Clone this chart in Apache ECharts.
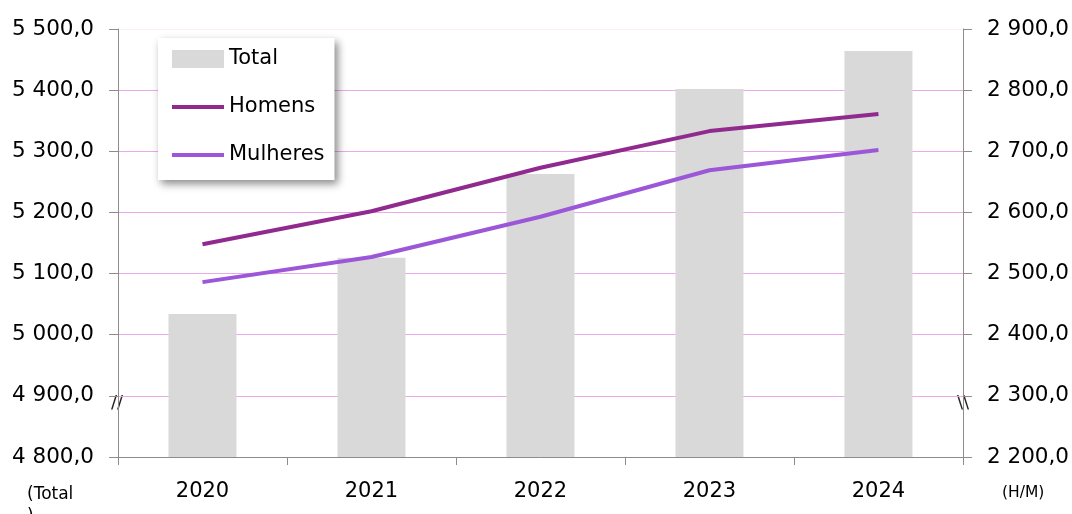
<!DOCTYPE html>
<html>
<head>
<meta charset="utf-8">
<script src="https://cdn.jsdelivr.net/npm/echarts@6/dist/echarts.min.js"></script>
<style>
html,body{margin:0;padding:0;background:#fff;}
#chart{width:1072px;height:514px;}
</style>
</head>
<body>
<div id="chart"></div>
<script>
var categories = ['2020', '2021', '2022', '2023', '2024'];
var totalValues = [5034, 5126, 5263, 5402, 5464];
var homensValues = [2548, 2602, 2673, 2733, 2761];
var mulheresValues = [2486, 2527, 2593, 2669, 2702];
var seriesNames = ['Total', 'Homens', 'Mulheres'];

var FONT = '"DejaVu Sans", sans-serif';
function fmt(v) {
  var s = Math.abs(v).toFixed(1).split('.');
  var intPart = s[0].replace(/\B(?=(\d{3})+(?!\d))/g, ' ');
  return (v < 0 ? '-' : '') + intPart + ',' + s[1];
}

var GRID_PINK = '#eba9eb';
var chart = echarts.init(document.getElementById('chart'));
chart.setOption({
  animation: false,
  backgroundColor: '#ffffff',
  textStyle: { fontFamily: FONT },
  grid: { left: 118, right: 108, top: 29, bottom: 57, containLabel: false },
  legend: {
    orient: 'vertical',
    left: 158, top: 38,
    padding: [9, 10, 13, 12],
    itemWidth: 52, itemHeight: 18,
    itemGap: 24,
    backgroundColor: '#ffffff',
    shadowColor: 'rgba(0,0,0,0.45)',
    shadowBlur: 8, shadowOffsetX: 3, shadowOffsetY: 4,
    textStyle: { fontSize: 21, color: '#000', fontFamily: FONT, lineHeight: 24 },
    data: [
      { name: seriesNames[0], icon: 'rect' },
      { name: seriesNames[1], itemStyle: { opacity: 0 }, lineStyle: { width: 4 } },
      { name: seriesNames[2], itemStyle: { opacity: 0 }, lineStyle: { width: 4 } }
    ]
  },
  xAxis: {
    type: 'category',
    data: categories,
    boundaryGap: true,
    axisLine: { lineStyle: { color: '#8c8c8c', width: 1 } },
    axisTick: { show: true, alignWithLabel: false, length: 8, lineStyle: { color: '#8c8c8c' } },
    axisLabel: { fontSize: 21, color: '#000', margin: 24, fontFamily: FONT },
    splitLine: { show: false }
  },
  yAxis: [
    {
      type: 'value', min: 4800, max: 5500, interval: 100, position: 'left',
      axisLine: { show: true, lineStyle: { color: '#8c8c8c' } },
      axisTick: { show: true, length: 9, lineStyle: { color: '#8c8c8c' } },
      axisLabel: { fontSize: 21.5, color: '#000', margin: 24, formatter: fmt, fontFamily: FONT },
      splitLine: { show: true, lineStyle: { color: [GRID_PINK, GRID_PINK, GRID_PINK, GRID_PINK, GRID_PINK, GRID_PINK, GRID_PINK, '#fbeefb'], width: 1 } }
    },
    {
      type: 'value', min: 2200, max: 2900, interval: 100, position: 'right',
      axisLine: { show: true, lineStyle: { color: '#8c8c8c' } },
      axisTick: { show: true, length: 9, lineStyle: { color: '#8c8c8c' } },
      axisLabel: { fontSize: 21.5, color: '#000', margin: 24, formatter: fmt, fontFamily: FONT },
      splitLine: { show: false }
    }
  ],
  series: [
    {
      name: seriesNames[0], type: 'bar', yAxisIndex: 0,
      data: totalValues, barWidth: 68,
      itemStyle: { color: '#d9d9d9' }
    },
    {
      name: seriesNames[1], type: 'line', yAxisIndex: 1,
      data: homensValues, symbol: 'none',
      lineStyle: { color: '#902a8e', width: 4 },
      itemStyle: { color: '#902a8e' }
    },
    {
      name: seriesNames[2], type: 'line', yAxisIndex: 1,
      data: mulheresValues, symbol: 'none',
      lineStyle: { color: '#9b57d8', width: 4 },
      itemStyle: { color: '#9b57d8' }
    }
  ],
  graphic: [
    { type: 'text', left: 111, top: 394, style: { text: '//', fontSize: 18, fill: '#222', fontFamily: FONT } },
    { type: 'text', left: 957, top: 394, style: { text: '\\\\', fontSize: 18, fill: '#222', fontFamily: FONT } },
    { type: 'text', left: 27, top: 484, style: { text: '(Total\n)', fontSize: 17, fill: '#000', fontFamily: FONT, lineHeight: 22 } },
    { type: 'text', left: 1002, top: 485, style: { text: '(H/M)', fontSize: 15.5, fill: '#000', fontFamily: FONT } }
  ]
});
</script>
</body>
</html>
